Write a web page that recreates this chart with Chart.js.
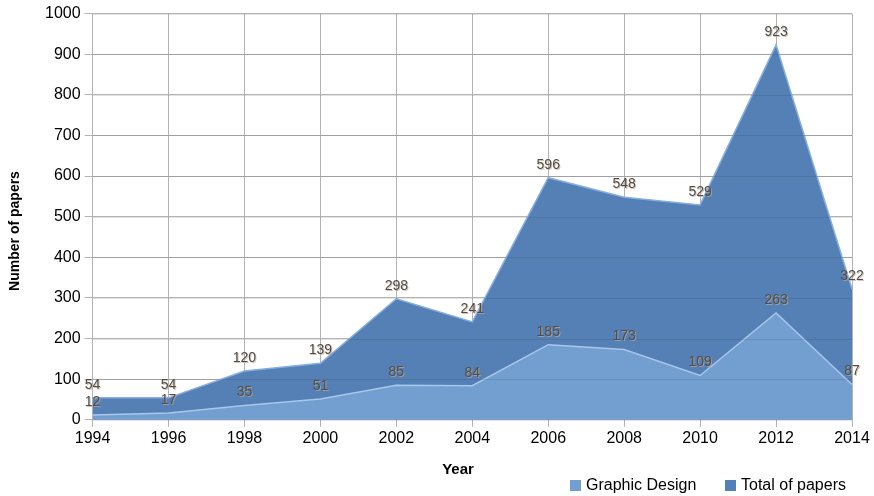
<!DOCTYPE html>
<html><head><meta charset="utf-8">
<script src="https://cdn.jsdelivr.net/npm/chart.js@4/dist/chart.umd.min.js"></script>
<style>html,body{margin:0;padding:0;background:#fff}#wrap{width:874px;height:496px}</style>
</head><body><div id="wrap"><canvas id="c" width="874" height="496"></canvas></div>
<script>
const years = ['1994','1996','1998','2000','2002','2004','2006','2008','2010','2012','2014'];
const graphicDesign = [12,17,35,51,85,84,185,173,109,263,87];
const totalPapers = [54,54,120,139,298,241,596,548,529,923,322];
const yTicks = [0,100,200,300,400,500,600,700,800,900,1000];
const xTitle = 'Year';
const yTitle = 'Number of papers';
const FONT = '"Liberation Sans", Arial, sans-serif';

const labelPlugin = {
  id: 'valLabels',
  afterDatasetsDraw(chart) {
    const ctx = chart.ctx;
    const a = chart.chartArea;
    const ys = chart.scales.y;
    ctx.save();
    // faint gridlines showing through the areas
    ctx.strokeStyle = 'rgba(40,40,40,0.13)';
    ctx.lineWidth = 1;
    yTicks.forEach(v => {
      const py = Math.round(ys.getPixelForValue(v)) + 0.5;
      ctx.beginPath(); ctx.moveTo(a.left, py); ctx.lineTo(a.right, py); ctx.stroke();
    });
    ctx.font = '14px ' + FONT;
    ctx.textAlign = 'center';
    ctx.textBaseline = 'middle';
    chart.data.datasets.forEach((ds, i) => {
      const meta = chart.getDatasetMeta(i);
      meta.data.forEach((pt, j) => {
        const txt = String(ds.data[j]);
        ctx.fillStyle = 'rgba(200,170,140,0.7)';
        ctx.fillText(txt, pt.x + 1, pt.y - 12);
        ctx.fillStyle = '#4d4d4d';
        ctx.fillText(txt, pt.x, pt.y - 13);
      });
    });
    ctx.restore();
  },
  afterDraw(chart) {
    const ctx = chart.ctx;
    ctx.save();
    ctx.fillStyle = '#000';
    ctx.font = 'bold 15px ' + FONT;
    ctx.textAlign = 'center';
    ctx.textBaseline = 'middle';
    ctx.fillText(xTitle, 458, 470);
    // legend
    ctx.font = '16px ' + FONT;
    ctx.textAlign = 'left';
    const legendX = [570, 725];
    chart.data.datasets.forEach((d, i) => {
      ctx.fillStyle = d.backgroundColor;
      ctx.fillRect(legendX[i], 480, 11, 11);
      ctx.fillStyle = '#000';
      ctx.fillText(d.label, legendX[i] + 16, 486);
    });
    ctx.translate(15, 231);
    ctx.rotate(-Math.PI / 2);
    ctx.font = 'bold 14px ' + FONT;
    ctx.textAlign = 'center';
    ctx.fillText(yTitle, 0, 0);
    ctx.restore();
  }
};

new Chart(document.getElementById('c'), {
  type: 'line',
  data: {
    labels: years,
    datasets: [
      { label: 'Graphic Design', data: graphicDesign, fill: 'origin',
        backgroundColor: '#729fcf', borderColor: '#a9c7ea', borderWidth: 1.5,
        pointRadius: 0, tension: 0 },
      { label: 'Total of papers', data: totalPapers, fill: 'origin',
        backgroundColor: '#5580b5', borderColor: '#86aee0', borderWidth: 1.5,
        pointRadius: 0, tension: 0 }
    ]
  },
  options: {
    responsive: false,
    animation: false,
    layout: { padding: { top: 5, right: 22, left: 41, bottom: 46 } },
    plugins: {
      legend: { display: false },
      tooltip: { enabled: false }
    },
    scales: {
      x: {
        type: 'category', offset: false,
        grid: { color: '#b3b3b3', tickLength: 7 },
        border: { color: '#b3b3b3' },
        ticks: { color: '#000', font: { size: 16, family: FONT }, maxRotation: 0, padding: 2 },
        title: { display: false }
      },
      y: {
        min: 0, max: 1000,
        afterBuildTicks(axis) { axis.ticks = yTicks.map(v => ({ value: v })); },
        grid: { color: '#b3b3b3', tickLength: 8 },
        border: { color: '#b3b3b3' },
        ticks: { color: '#000', font: { size: 16, family: FONT }, padding: 4,
          callback: v => String(v) },
        title: { display: false }
      }
    }
  },
  plugins: [labelPlugin]
});
</script></body></html>
